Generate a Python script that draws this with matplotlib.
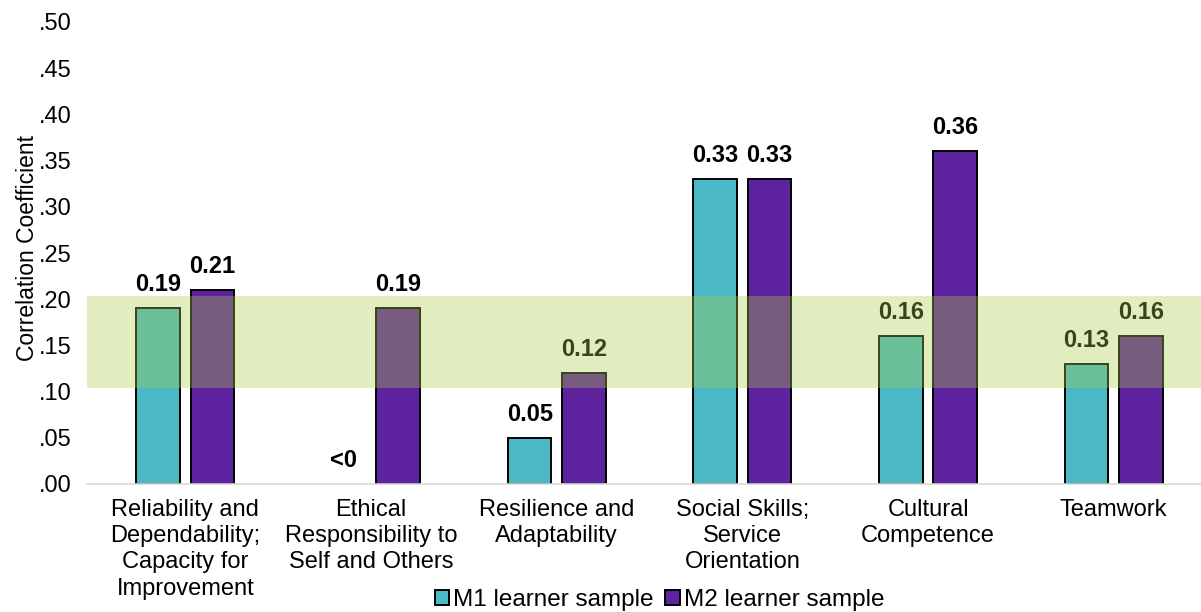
import numpy as np
import matplotlib
matplotlib.use("Agg")
import matplotlib.pyplot as plt
from matplotlib.ticker import FuncFormatter

plt.rcParams["font.family"] = ["Liberation Sans", "DejaVu Sans"]

# competency categories and correlation coefficients per learner sample
categories = [
    "Reliability and\nDependability;\nCapacity for\nImprovement",
    "Ethical\nResponsibility to\nSelf and Others",
    "Resilience and\nAdaptability",
    "Social Skills;\nService\nOrientation",
    "Cultural\nCompetence",
    "Teamwork",
]
m1_values = [0.19, 0.0, 0.05, 0.33, 0.16, 0.13]
m2_values = [0.21, 0.19, 0.12, 0.33, 0.36, 0.16]
m1_labels = ["0.19", "<0", "0.05", "0.33", "0.16", "0.13"]
m2_labels = ["0.21", "0.19", "0.12", "0.33", "0.36", "0.16"]
series_names = ["M1 learner sample", "M2 learner sample"]

teal = "#4BB9C5"
purple = "#5E239F"
band_color = (169 / 255, 205 / 255, 70 / 255)
fs = 17

fig = plt.figure(figsize=(12.01, 6.12), dpi=100)
ax = fig.add_axes([87 / 1201, 128 / 612, 1114 / 1201, 462 / 612])

x = np.arange(len(categories))
w = 0.235
off = 0.146

b1 = ax.bar(x - off, m1_values, w, color=teal, edgecolor="black", linewidth=1.4,
            label=series_names[0], zorder=2)
b2 = ax.bar(x + off, m2_values, w, color=purple, edgecolor="black", linewidth=1.4,
            label=series_names[1], zorder=2)

# no outline for bars with no positive height
for bar, v in zip(b1, m1_values):
    if v <= 0:
        bar.set_linewidth(0)

for xi, v, lab in zip(x - off, m1_values, m1_labels):
    ax.text(xi, v + 0.013, lab, ha="center", va="bottom", fontsize=fs,
            fontweight="bold", zorder=3)
for xi, v, lab in zip(x + off, m2_values, m2_labels):
    ax.text(xi, v + 0.013, lab, ha="center", va="bottom", fontsize=fs,
            fontweight="bold", zorder=3)

# translucent highlight band across the plot
ax.axhspan(0.104, 0.203, color=band_color, alpha=0.34, lw=0, zorder=5)

ax.set_ylim(0, 0.5)
ax.set_xlim(-0.53, 5.47)
ax.set_yticks(np.arange(0, 0.501, 0.05))
ax.yaxis.set_major_formatter(FuncFormatter(lambda v, p: f"{v:.2f}".lstrip("0")))
ax.set_xticks(x)
ax.set_xticklabels(categories, fontsize=fs, linespacing=1.24, va="top")
ax.tick_params(axis="y", labelsize=fs, length=0, pad=11)
ax.tick_params(axis="x", length=0, pad=11)
ax.set_ylabel("Correlation Coefficient", fontsize=16.5)
ax.yaxis.set_label_coords(-0.043, 0.511)

for s in ["top", "right", "left"]:
    ax.spines[s].set_visible(False)
ax.spines["bottom"].set_color("#d9d9d9")
ax.spines["bottom"].set_linewidth(1.2)

fig.legend(handles=[b1, b2], labels=series_names, loc="lower center",
           bbox_to_anchor=(0.549, -0.034), ncol=2, frameon=False, fontsize=17.5,
           handlelength=0.6, handleheight=0.6, handletextpad=0.15,
           columnspacing=0.5)

fig.savefig("out.png", dpi=100)
